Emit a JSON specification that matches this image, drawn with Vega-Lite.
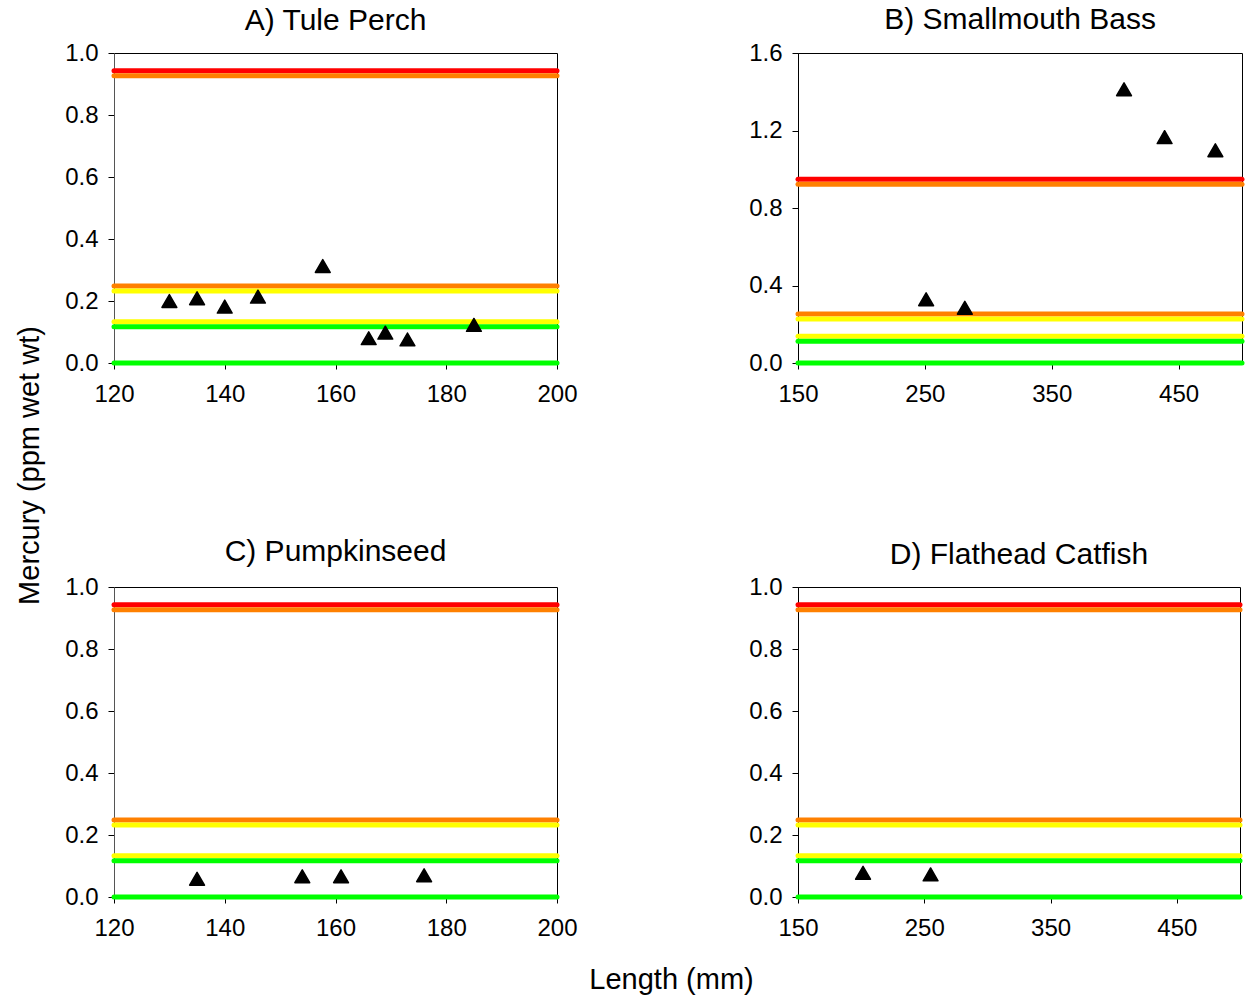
{
  "$schema": "https://vega.github.io/schema/vega-lite/v6.json",
  "padding": {"left": 14, "top": 4, "right": 2, "bottom": 2},
  "background": "white",
  "bounds": "flush",
  "columns": 2,
  "spacing": {"row": 224, "column": 241},
  "datasets": {
    "limits": [
      {"level": 0.935, "band": "Red", "side": "upper"},
      {"level": 0.935, "band": "Orange", "side": "lower"},
      {"level": 0.24, "band": "Orange", "side": "upper"},
      {"level": 0.24, "band": "Yellow", "side": "lower"},
      {"level": 0.125, "band": "Yellow", "side": "upper"},
      {"level": 0.125, "band": "Green", "side": "lower"},
      {"level": 0, "band": "Green", "side": "zero"}
    ],
    "fish": [
      {"panel": "A", "length": 130, "mercury": 0.2},
      {"panel": "A", "length": 135, "mercury": 0.209},
      {"panel": "A", "length": 140, "mercury": 0.182},
      {"panel": "A", "length": 146, "mercury": 0.214},
      {"panel": "A", "length": 157.7, "mercury": 0.313},
      {"panel": "A", "length": 166, "mercury": 0.08},
      {"panel": "A", "length": 169, "mercury": 0.098},
      {"panel": "A", "length": 173, "mercury": 0.076},
      {"panel": "A", "length": 185, "mercury": 0.123},
      {"panel": "B", "length": 251, "mercury": 0.329},
      {"panel": "B", "length": 281.5, "mercury": 0.285},
      {"panel": "B", "length": 407, "mercury": 1.413},
      {"panel": "B", "length": 439, "mercury": 1.166},
      {"panel": "B", "length": 479, "mercury": 1.098},
      {"panel": "C", "length": 135, "mercury": 0.059},
      {"panel": "C", "length": 154, "mercury": 0.067},
      {"panel": "C", "length": 161, "mercury": 0.067},
      {"panel": "C", "length": 176, "mercury": 0.07},
      {"panel": "D", "length": 201.5, "mercury": 0.078},
      {"panel": "D", "length": 255, "mercury": 0.073}
    ]
  },
  "concat": [
    {
      "width": 443, "height": 310,
      "title": {"text": "A) Tule Perch", "offset": 5},
      "layer": [
        {"data": {"name": "limits"}, "transform": [{"filter": "datum.side === 'upper'"}],
         "mark": {"type": "rule", "strokeWidth": 5, "strokeCap": "round", "yOffset": -2.5},
         "encoding": {"y": {"field": "level", "type": "quantitative", "scale": {"domain": [0, 1], "nice": false},
            "axis": {"values": [0, 0.2, 0.4, 0.6, 0.8, 1.0], "format": ".1f", "title": "Mercury (ppm wet wt)", "titleX": -76, "titleY": 412, "titleBaseline": "alphabetic", "titleAlign": "center", "titleAngle": -90, "domainColor": "#555555"}},
           "color": {"field": "band", "type": "nominal", "scale": {"domain": ["Red", "Orange", "Yellow", "Green"], "range": ["#ff0000", "#ff8000", "#ffff00", "#00ff00"]}, "legend": null}}},
        {"data": {"name": "limits"}, "transform": [{"filter": "datum.side === 'lower'"}],
         "mark": {"type": "rule", "strokeWidth": 5, "strokeCap": "round", "yOffset": 2.5},
         "encoding": {"y": {"field": "level", "type": "quantitative"},
           "color": {"field": "band", "type": "nominal", "legend": null}}},
        {"data": {"name": "limits"}, "transform": [{"filter": "datum.side === 'zero'"}],
         "mark": {"type": "rule", "strokeWidth": 5, "strokeCap": "round"},
         "encoding": {"y": {"field": "level", "type": "quantitative"},
           "color": {"field": "band", "type": "nominal", "legend": null}}},
        {"data": {"name": "fish"}, "transform": [{"filter": "datum.panel === 'A'"}],
         "mark": {"type": "point", "shape": "triangle-up", "filled": true, "size": 220, "color": "black", "stroke": "black", "strokeWidth": 1.5, "strokeJoin": "round", "opacity": 1},
         "encoding": {"x": {"field": "length", "type": "quantitative", "scale": {"domain": [120, 200], "nice": false}, "axis": {"values": [120, 140, 160, 180, 200], "format": "d", "title": null}},
           "y": {"field": "mercury", "type": "quantitative"}}}
      ]
    },
    {
      "width": 444, "height": 310,
      "title": {"text": "B) Smallmouth Bass", "offset": 6},
      "layer": [
        {"data": {"name": "limits"}, "transform": [{"filter": "datum.side === 'upper'"}],
         "mark": {"type": "rule", "strokeWidth": 5, "strokeCap": "round", "yOffset": -2.5},
         "encoding": {"y": {"field": "level", "type": "quantitative", "scale": {"domain": [0, 1.6], "nice": false},
            "axis": {"values": [0, 0.4, 0.8, 1.2, 1.6], "format": ".1f", "title": null}},
           "color": {"field": "band", "type": "nominal", "scale": {"domain": ["Red", "Orange", "Yellow", "Green"], "range": ["#ff0000", "#ff8000", "#ffff00", "#00ff00"]}, "legend": null}}},
        {"data": {"name": "limits"}, "transform": [{"filter": "datum.side === 'lower'"}],
         "mark": {"type": "rule", "strokeWidth": 5, "strokeCap": "round", "yOffset": 2.5},
         "encoding": {"y": {"field": "level", "type": "quantitative"},
           "color": {"field": "band", "type": "nominal", "legend": null}}},
        {"data": {"name": "limits"}, "transform": [{"filter": "datum.side === 'zero'"}],
         "mark": {"type": "rule", "strokeWidth": 5, "strokeCap": "round"},
         "encoding": {"y": {"field": "level", "type": "quantitative"},
           "color": {"field": "band", "type": "nominal", "legend": null}}},
        {"data": {"name": "fish"}, "transform": [{"filter": "datum.panel === 'B'"}],
         "mark": {"type": "point", "shape": "triangle-up", "filled": true, "size": 220, "color": "black", "stroke": "black", "strokeWidth": 1.5, "strokeJoin": "round", "opacity": 1},
         "encoding": {"x": {"field": "length", "type": "quantitative", "scale": {"domain": [150, 500], "nice": false}, "axis": {"values": [150, 250, 350, 450], "format": "d", "title": null}},
           "y": {"field": "mercury", "type": "quantitative"}}}
      ]
    },
    {
      "width": 443, "height": 310,
      "title": {"text": "C) Pumpkinseed", "offset": 8},
      "layer": [
        {"data": {"name": "limits"}, "transform": [{"filter": "datum.side === 'upper'"}],
         "mark": {"type": "rule", "strokeWidth": 5, "strokeCap": "round", "yOffset": -2.5},
         "encoding": {"y": {"field": "level", "type": "quantitative", "scale": {"domain": [0, 1], "nice": false},
            "axis": {"values": [0, 0.2, 0.4, 0.6, 0.8, 1.0], "format": ".1f", "title": null, "domainColor": "#555555"}},
           "color": {"field": "band", "type": "nominal", "scale": {"domain": ["Red", "Orange", "Yellow", "Green"], "range": ["#ff0000", "#ff8000", "#ffff00", "#00ff00"]}, "legend": null}}},
        {"data": {"name": "limits"}, "transform": [{"filter": "datum.side === 'lower'"}],
         "mark": {"type": "rule", "strokeWidth": 5, "strokeCap": "round", "yOffset": 2.5},
         "encoding": {"y": {"field": "level", "type": "quantitative"},
           "color": {"field": "band", "type": "nominal", "legend": null}}},
        {"data": {"name": "limits"}, "transform": [{"filter": "datum.side === 'zero'"}],
         "mark": {"type": "rule", "strokeWidth": 5, "strokeCap": "round"},
         "encoding": {"y": {"field": "level", "type": "quantitative"},
           "color": {"field": "band", "type": "nominal", "legend": null}}},
        {"data": {"name": "fish"}, "transform": [{"filter": "datum.panel === 'C'"}],
         "mark": {"type": "point", "shape": "triangle-up", "filled": true, "size": 220, "color": "black", "stroke": "black", "strokeWidth": 1.5, "strokeJoin": "round", "opacity": 1},
         "encoding": {"x": {"field": "length", "type": "quantitative", "scale": {"domain": [120, 200], "nice": false}, "axis": {"values": [120, 140, 160, 180, 200], "format": "d", "title": "Length (mm)", "titleX": 557, "titleY": 91, "titleBaseline": "alphabetic", "titleAlign": "center"}},
           "y": {"field": "mercury", "type": "quantitative"}}}
      ]
    },
    {
      "width": 442, "height": 310,
      "title": {"text": "D) Flathead Catfish", "offset": 5},
      "layer": [
        {"data": {"name": "limits"}, "transform": [{"filter": "datum.side === 'upper'"}],
         "mark": {"type": "rule", "strokeWidth": 5, "strokeCap": "round", "yOffset": -2.5},
         "encoding": {"y": {"field": "level", "type": "quantitative", "scale": {"domain": [0, 1], "nice": false},
            "axis": {"values": [0, 0.2, 0.4, 0.6, 0.8, 1.0], "format": ".1f", "title": null}},
           "color": {"field": "band", "type": "nominal", "scale": {"domain": ["Red", "Orange", "Yellow", "Green"], "range": ["#ff0000", "#ff8000", "#ffff00", "#00ff00"]}, "legend": null}}},
        {"data": {"name": "limits"}, "transform": [{"filter": "datum.side === 'lower'"}],
         "mark": {"type": "rule", "strokeWidth": 5, "strokeCap": "round", "yOffset": 2.5},
         "encoding": {"y": {"field": "level", "type": "quantitative"},
           "color": {"field": "band", "type": "nominal", "legend": null}}},
        {"data": {"name": "limits"}, "transform": [{"filter": "datum.side === 'zero'"}],
         "mark": {"type": "rule", "strokeWidth": 5, "strokeCap": "round"},
         "encoding": {"y": {"field": "level", "type": "quantitative"},
           "color": {"field": "band", "type": "nominal", "legend": null}}},
        {"data": {"name": "fish"}, "transform": [{"filter": "datum.panel === 'D'"}],
         "mark": {"type": "point", "shape": "triangle-up", "filled": true, "size": 220, "color": "black", "stroke": "black", "strokeWidth": 1.5, "strokeJoin": "round", "opacity": 1},
         "encoding": {"x": {"field": "length", "type": "quantitative", "scale": {"domain": [150, 500], "nice": false}, "axis": {"values": [150, 250, 350, 450], "format": "d", "title": null}},
           "y": {"field": "mercury", "type": "quantitative"}}}
      ]
    }
  ],
  "config": {
    "font": "Liberation Sans",
    "view": {"stroke": "black", "strokeWidth": 1},
    "axis": {"grid": false, "domainColor": "black", "tickColor": "black", "labelColor": "black", "labelFontSize": 24, "labelFlush": false, "tickSize": 6, "titleFontSize": 29, "titleFontWeight": "normal", "titleColor": "black"},
    "axisX": {"labelPadding": 13},
    "axisY": {"labelPadding": 10},
    "title": {"fontSize": 30, "fontWeight": "normal", "color": "black", "baseline": "alphabetic"}
  }
}
